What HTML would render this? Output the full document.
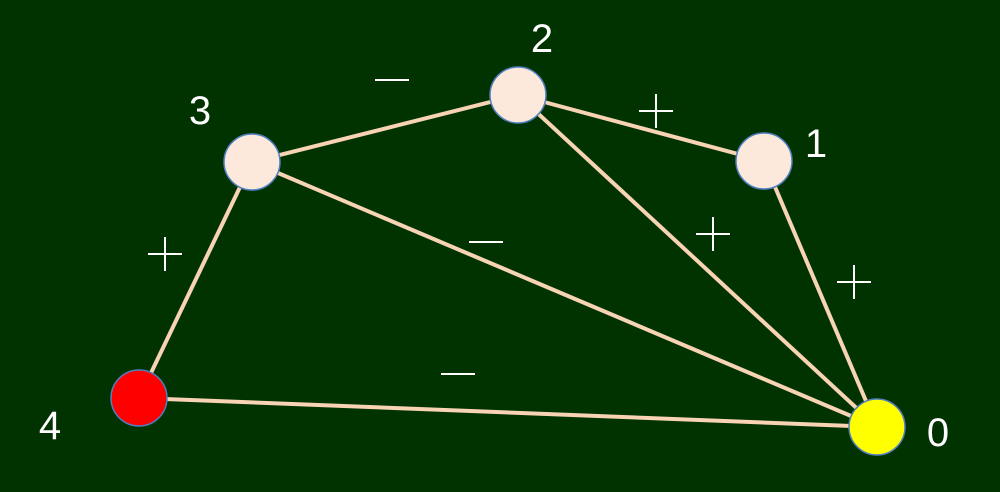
<!DOCTYPE html>
<html><head><meta charset="utf-8"><style>
html,body{margin:0;padding:0;background:#003300;}
svg{display:block;}
text{font-family:"Liberation Sans",sans-serif;fill:#fff;font-size:40px;}
</style></head><body>
<svg id="chart" width="1000" height="492" viewBox="0 0 1000 492">
<rect width="1000" height="492" fill="#003300"/>
<g id="edges" stroke-width="4">
<line class="e" x1="252" y1="162" x2="518" y2="95" stroke="#f8d4b4"/>
<line class="e" x1="518" y1="95" x2="764" y2="161" stroke="#f8d4b4"/>
<line class="e" x1="252" y1="162" x2="877" y2="427" stroke="#f8d4b4"/>
<line class="e" x1="518" y1="95" x2="877" y2="427" stroke="#f8d4b4"/>
<line class="e" x1="764" y1="161" x2="877" y2="427" stroke="#f8d4b4"/>
<line class="e" x1="139" y1="398" x2="877" y2="427" stroke="#f8d4b4"/>
<line class="e" x1="252" y1="162" x2="139" y2="398" stroke="#f8d4b4"/>
</g>
<g id="signs" stroke="#fff" stroke-width="2">
<g class="s"><line x1="375" y1="80" x2="409" y2="80"/></g>
<g class="s"><line x1="639" y1="111" x2="673" y2="111"/><line x1="656" y1="94" x2="656" y2="128"/></g>
<g class="s"><line x1="469" y1="242" x2="503" y2="242"/></g>
<g class="s"><line x1="696" y1="234" x2="730" y2="234"/><line x1="713" y1="217" x2="713" y2="251"/></g>
<g class="s"><line x1="837" y1="282" x2="871" y2="282"/><line x1="854" y1="265" x2="854" y2="299"/></g>
<g class="s"><line x1="441" y1="374" x2="475" y2="374"/></g>
<g class="s"><line x1="148" y1="254" x2="182" y2="254"/><line x1="165" y1="237" x2="165" y2="271"/></g>
</g>
<g id="nodes" stroke="#4f7fbf" stroke-width="1.5">
<circle class="n" cx="877" cy="427" r="28" fill="#ffff00"/>
<circle class="n" cx="764" cy="161" r="28" fill="#fde8dc"/>
<circle class="n" cx="518" cy="95" r="28" fill="#fde8dc"/>
<circle class="n" cx="252" cy="162" r="28" fill="#fde8dc"/>
<circle class="n" cx="139" cy="398" r="28" fill="#ff0000"/>
</g>
<g id="labels" text-anchor="middle">
<text class="l" x="938" y="446">0</text>
<text class="l" x="816" y="157">1</text>
<text class="l" x="542" y="52">2</text>
<text class="l" x="200" y="124">3</text>
<text class="l" x="50" y="439">4</text>
</g>
</svg>
<script>
var nodeX=[877,764,518,252,139];
var nodeY=[427,161,95,162,398];
var edgeFrom=[3,2,3,2,1,4,3];
var edgeTo=[2,1,0,0,0,0,4];
var edgeSigns=["-","+","-","+","+","-","+"];
var signX=[392,656,486,713,854,458,165];
var signY=[80,111,242,234,282,374,254];
var labelX=[938,816,542,200,50];
var labelY=[446,157,52,124,439];
(function(){
 var es=document.querySelectorAll("#edges .e");
 for(var i=0;i<es.length;i++){var a=edgeFrom[i],b=edgeTo[i];
  es[i].setAttribute("x1",nodeX[a]);es[i].setAttribute("y1",nodeY[a]);
  es[i].setAttribute("x2",nodeX[b]);es[i].setAttribute("y2",nodeY[b]);}
 var ss=document.querySelectorAll("#signs .s");
 for(var i=0;i<ss.length;i++){var ls=ss[i].querySelectorAll("line"),x=signX[i],y=signY[i];
  ls[0].setAttribute("x1",x-17);ls[0].setAttribute("x2",x+17);ls[0].setAttribute("y1",y);ls[0].setAttribute("y2",y);
  if(ls[1]){ls[1].setAttribute("x1",x);ls[1].setAttribute("x2",x);ls[1].setAttribute("y1",y-17);ls[1].setAttribute("y2",y+17);}}
 var ns=document.querySelectorAll("#nodes .n");
 for(var i=0;i<ns.length;i++){ns[i].setAttribute("cx",nodeX[i]);ns[i].setAttribute("cy",nodeY[i]);}
 var ts=document.querySelectorAll("#labels .l");
 for(var i=0;i<ts.length;i++){ts[i].setAttribute("x",labelX[i]);ts[i].setAttribute("y",labelY[i]);}
})();
</script>
</body></html>
